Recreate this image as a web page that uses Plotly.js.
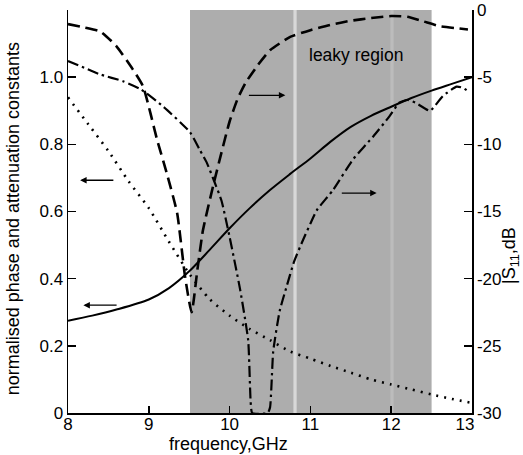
<!DOCTYPE html>
<html>
<head>
<meta charset="utf-8">
<script src="https://cdn.plot.ly/plotly-3.0.1.min.js"></script>
<style>html,body{margin:0;padding:0;background:#fff;}#chart{width:523px;height:455px;}</style>
</head>
<body>
<div id="chart"></div>
<script>
// Normalised phase constant (solid, left axis)
const phaseFreq = [8.0, 8.3, 8.6, 9.0, 9.25, 9.5, 9.75, 10.0, 10.25, 10.5, 10.75, 11.0, 11.25, 11.5, 11.75, 12.0, 12.25, 12.5, 12.75, 13.0];
const phaseVal  = [0.275, 0.29, 0.308, 0.338, 0.372, 0.422, 0.485, 0.55, 0.61, 0.664, 0.712, 0.758, 0.808, 0.852, 0.885, 0.912, 0.938, 0.96, 0.98, 1.0];

// Normalised attenuation constant (dotted, left axis)
const attFreq = [8.0, 8.25, 8.5, 8.75, 9.0, 9.25, 9.5, 9.75, 10.0, 10.25, 10.5, 10.75, 11.0, 11.25, 11.5, 11.75, 12.0, 12.25, 12.5, 12.75, 13.0];
const attVal  = [0.94, 0.86, 0.78, 0.69, 0.61, 0.51, 0.415, 0.34, 0.29, 0.25, 0.217, 0.183, 0.162, 0.14, 0.12, 0.1, 0.085, 0.07, 0.055, 0.042, 0.03];

// |S11| curve A (dashed, right axis, dB)
const s11aFreq = [8.0, 8.2, 8.4, 8.6, 8.8, 8.93, 9.1, 9.22, 9.35, 9.45, 9.53, 9.6, 9.67, 9.8, 9.9, 10.0, 10.1, 10.2, 10.35, 10.5, 10.75, 11.0, 11.25, 11.5, 11.75, 12.0, 12.2, 12.4, 12.6, 12.8, 12.95];
const s11aVal  = [-1.05, -1.3, -1.6, -2.7, -4.4, -5.7, -9.6, -12.1, -15.1, -19.9, -22.5, -19.4, -16.4, -13.0, -10.6, -8.3, -6.6, -5.4, -4.1, -3.0, -2.0, -1.5, -1.1, -0.8, -0.6, -0.45, -0.5, -0.85, -1.2, -1.35, -1.45];

// |S11| curve B (dash-dot, right axis, dB)
const s11bFreq = [8.0, 8.2, 8.4, 8.68, 8.9, 9.18, 9.51, 9.63, 9.72, 9.8, 9.9, 10.0, 10.13, 10.23, 10.26, 10.28, 10.47, 10.5, 10.54, 10.62, 10.7, 10.8, 10.91, 11.0, 11.08, 11.28, 11.53, 11.78, 11.98, 12.1, 12.2, 12.3, 12.48, 12.64, 12.81, 12.89, 12.94];
const s11bVal  = [-3.8, -4.3, -4.8, -5.3, -5.9, -7.2, -9.1, -10.4, -11.4, -12.6, -14.2, -16.9, -20.8, -24.6, -29.1, -30, -30, -29.6, -25.4, -22.4, -20.7, -18.7, -17.1, -15.9, -14.9, -13.4, -11.1, -9.4, -7.9, -6.9, -6.7, -6.9, -7.5, -6.4, -5.7, -5.8, -6.0];

const xTicks = [8, 9, 10, 11, 12, 13];
const xTickText = ['8', '9', '10', '11', '12', '13&nbsp;&nbsp;&nbsp;'];
const yTicks = [0, 0.2, 0.4, 0.6, 0.8, 1.0, 1.2];
const yTickText = ['0', '0.2', '0.4', '0.6', '0.8', '1.0', ' '];
const y2Ticks = [-30, -25, -20, -15, -10, -5, 0];
const y2TickText = ['-30', '-25', '-20', '-15', '-10', '-5', '0'];

const leakyStart = 9.51, leakyEnd = 12.5;

const FONT = '"Liberation Sans", Arial, Helvetica, sans-serif';

const traces = [
  {x: phaseFreq, y: phaseVal, yaxis: 'y', mode: 'lines', line: {color: '#000', width: 2, shape: 'spline', smoothing: 0.8}, hoverinfo: 'skip'},
  {x: attFreq, y: attVal, yaxis: 'y', mode: 'lines', line: {color: '#000', width: 2.6, dash: '2px,6px', shape: 'spline', smoothing: 0.7}, hoverinfo: 'skip'},
  {x: s11aFreq, y: s11aVal, yaxis: 'y2', mode: 'lines', line: {color: '#000', width: 2.6, dash: '12px,6px', shape: 'spline', smoothing: 0.5}, hoverinfo: 'skip'},
  {x: s11bFreq, y: s11bVal, yaxis: 'y2', mode: 'lines', line: {color: '#000', width: 2.2, dash: '11px,4px,2.5px,4px', shape: 'spline', smoothing: 0.5}, hoverinfo: 'skip'}
];

function arrow(hx, hy, tx, ty) {
  return {x: hx, y: hy, ax: tx, ay: ty, xref: 'x', yref: 'y', axref: 'x', ayref: 'y',
          text: '', showarrow: true, arrowhead: 2, arrowsize: 1, arrowwidth: 1.3, arrowcolor: '#000'};
}

const layout = {
  width: 523, height: 455,
  margin: {l: 68, r: 51, t: 10, b: 42, pad: 0},
  paper_bgcolor: '#fff', plot_bgcolor: 'rgba(0,0,0,0)',
  showlegend: false,
  font: {family: FONT, size: 17, color: '#000'},
  xaxis: {range: [8, 13], tickvals: xTicks, ticktext: xTickText, ticks: 'inside', ticklen: 7, tickwidth: 1.5,
          tickcolor: '#000', showline: true, linecolor: '#000', linewidth: 1.5, showgrid: false, zeroline: false,
          automargin: false, tickfont: {size: 17}, ticklabelstandoff: -5},
  yaxis: {range: [0, 1.2], tickvals: yTicks, ticktext: yTickText, ticks: 'inside', ticklen: 8, tickwidth: 1.5,
          tickcolor: '#000', showline: true, linecolor: '#000', linewidth: 1.5, showgrid: false, zeroline: false,
          automargin: false, tickfont: {size: 17}},
  yaxis2: {range: [-30, 0], overlaying: 'y', side: 'right', tickvals: y2Ticks, ticktext: y2TickText, ticks: 'inside',
           ticklen: 8, tickwidth: 1.5, tickcolor: '#000', showline: true, linecolor: '#000', linewidth: 1.5,
           showgrid: false, zeroline: false, automargin: false, tickfont: {size: 17}},
  shapes: [
    {type: 'rect', xref: 'x', yref: 'paper', x0: leakyStart, x1: leakyEnd, y0: 0, y1: 1, fillcolor: '#adadad', line: {width: 0}, layer: 'below'},
    {type: 'rect', xref: 'x', yref: 'paper', x0: 10.79, x1: 10.83, y0: 0, y1: 1, fillcolor: '#d8d8d8', line: {width: 0}, layer: 'below'},
    {type: 'rect', xref: 'x', yref: 'paper', x0: 11.99, x1: 12.03, y0: 0, y1: 1, fillcolor: '#bcbcbc', line: {width: 0}, layer: 'below'}
  ],
  annotations: [
    {text: 'leaky region', x: 11.56, y: 1.065, xref: 'x', yref: 'y', xanchor: 'center', yanchor: 'middle', showarrow: false, font: {size: 17.5, color: '#000'}},
    {text: 'frequency,GHz', x: 0.3985, y: -0.077, xref: 'paper', yref: 'paper', xanchor: 'center', yanchor: 'middle', showarrow: false, font: {size: 18}},
    {text: 'normalised phase and attenuation constants', x: -0.136, y: 0.481, xref: 'paper', yref: 'paper', xanchor: 'center', yanchor: 'middle', showarrow: false, textangle: -90, font: {size: 18}},
    {text: '|S<sub>11</sub>,dB', x: 1.094, y: 0.392, xref: 'paper', yref: 'paper', xanchor: 'center', yanchor: 'middle', showarrow: false, textangle: -90, font: {size: 18}},
    arrow(8.15, 0.693, 8.58, 0.693),
    arrow(8.19, 0.321, 8.62, 0.321),
    arrow(10.69, 0.946, 10.22, 0.946),
    arrow(11.82, 0.655, 11.37, 0.655)
  ]
};

Plotly.newPlot('chart', traces, layout, {staticPlot: true, displayModeBar: false});
</script>
</body>
</html>
